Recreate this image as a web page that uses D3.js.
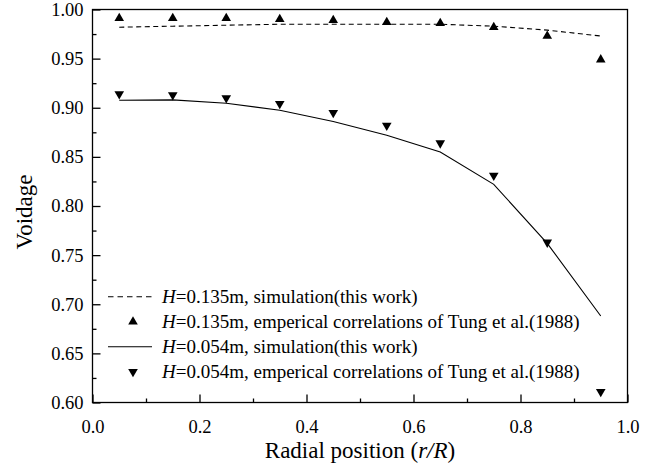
<!DOCTYPE html>
<html>
<head>
<meta charset="utf-8">
<script src="https://cdn.jsdelivr.net/npm/d3@7"></script>
<style>
  html, body { margin: 0; padding: 0; background: #fff; }
  svg { display: block; }
  text { font-family: "Liberation Serif", "Times New Roman", serif; fill: #000; }
</style>
</head>
<body>
<svg id="chart" width="664" height="468"></svg>
<script>
// ---- data ----
const radial = [0.05, 0.15, 0.25, 0.35, 0.45, 0.55, 0.65, 0.75, 0.85, 0.95];
const sim135 = [0.982, 0.983, 0.984, 0.985, 0.985, 0.985, 0.985, 0.983, 0.979, 0.973];
const emp135 = [0.991, 0.991, 0.991, 0.990, 0.989, 0.987, 0.986, 0.982, 0.973, 0.949];
const sim054 = [0.9076, 0.908, 0.9046, 0.8975, 0.886, 0.872, 0.855, 0.822, 0.762, 0.688];
const emp054 = [0.914, 0.913, 0.910, 0.904, 0.895, 0.882, 0.864, 0.831, 0.763, 0.611];
const xTicks = [0.0, 0.2, 0.4, 0.6, 0.8, 1.0];
const xMinor = [0.1, 0.3, 0.5, 0.7, 0.9];
const yTicks = [0.60, 0.65, 0.70, 0.75, 0.80, 0.85, 0.90, 0.95, 1.00];
const yMinor = [0.625, 0.675, 0.725, 0.775, 0.825, 0.875, 0.925, 0.975];
const legendLabels = [
  "=0.135m, simulation(this work)",
  "=0.135m, emperical correlations of Tung et al.(1988)",
  "=0.054m, simulation(this work)",
  "=0.054m, emperical correlations of Tung et al.(1988)"
];

// ---- layout ----
const L = 92.5, R = 627.5, T = 9.5, B = 402.5;
const FONT = "'Liberation Serif', 'Times New Roman', serif";
const svg = d3.select("#chart");
const x = d3.scaleLinear().domain([0, 1]).range([L, R]);
const y = d3.scaleLinear().domain([0.6, 1.0]).range([B, T]);

// frame
svg.append("rect").attr("x", L).attr("y", T).attr("width", R - L).attr("height", B - T)
  .attr("fill", "none").attr("stroke", "#000").attr("stroke-width", 1.3);

// axes
const yAxis = svg.append("g").attr("transform", `translate(${L},0)`)
  .call(d3.axisLeft(y).tickValues(yTicks).tickFormat(d3.format(".2f")).tickSize(-8).tickPadding(9));
const yAxisMinor = svg.append("g").attr("transform", `translate(${L},0)`)
  .call(d3.axisLeft(y).tickValues(yMinor).tickFormat("").tickSize(-4));
const xAxis = svg.append("g").attr("transform", `translate(0,${B})`)
  .call(d3.axisBottom(x).tickValues(xTicks).tickFormat(d3.format(".1f")).tickSize(-8).tickPadding(17));
const xAxisMinor = svg.append("g").attr("transform", `translate(0,${B})`)
  .call(d3.axisBottom(x).tickValues(xMinor).tickFormat("").tickSize(-4));
[yAxis, yAxisMinor, xAxis, xAxisMinor].forEach(g => {
  g.attr("font-family", FONT);
  g.select(".domain").remove();
  g.selectAll("line").attr("stroke", "#000").attr("stroke-width", 1.3);
  g.selectAll("text").style("font-family", FONT).style("font-size", "18.5px").attr("fill", "#000");
});

// lines
const line = d3.line().x(d => x(d[0])).y(d => y(d[1]));
svg.append("path").datum(radial.map((r, i) => [r, sim135[i]]))
  .attr("d", line).attr("fill", "none").attr("stroke", "#000").attr("stroke-width", 1.1)
  .attr("stroke-dasharray", "5,3.5");
svg.append("path").datum(radial.map((r, i) => [r, sim054[i]]))
  .attr("d", line).attr("fill", "none").attr("stroke", "#000").attr("stroke-width", 1.1);

// markers
const tri = d3.symbol().type(d3.symbolTriangle).size(40);
svg.append("g").selectAll("path").data(radial.map((r, i) => [r, emp135[i]])).join("path")
  .attr("d", tri).attr("transform", d => `translate(${x(d[0])},${y(d[1])})`).attr("fill", "#000");
svg.append("g").selectAll("path").data(radial.map((r, i) => [r, emp054[i]])).join("path")
  .attr("d", tri).attr("transform", d => `translate(${x(d[0])},${y(d[1])}) rotate(180)`).attr("fill", "#000");

// legend
const lg = svg.append("g");
const rowsY = [296.7, 321.7, 346.7, 371.7];
legendLabels.forEach((lab, i) => {
  const cy = rowsY[i];
  if (i === 0 || i === 2) {
    lg.append("line").attr("x1", 108).attr("x2", 152).attr("y1", cy).attr("y2", cy)
      .attr("stroke", "#000").attr("stroke-width", 1.1)
      .attr("stroke-dasharray", i === 0 ? "5.5,4" : null);
  } else {
    lg.append("path").attr("d", tri)
      .attr("transform", `translate(133,${cy})` + (i === 3 ? " rotate(180)" : ""))
      .attr("fill", "#000");
  }
  const t = lg.append("text").attr("x", 162).attr("y", cy + 6.5).style("font-size", "19px");
  t.append("tspan").style("font-style", "italic").text("H");
  t.append("tspan").text(lab);
});

// axis titles
const xt = svg.append("text").attr("x", (L + R) / 2).attr("y", 458)
  .attr("text-anchor", "middle").style("font-size", "23px");
xt.append("tspan").text("Radial position (");
xt.append("tspan").style("font-style", "italic").text("r/R");
xt.append("tspan").text(")");

svg.append("text").attr("transform", `translate(32,${(T + B) / 2 + 6}) rotate(-90)`)
  .attr("text-anchor", "middle").style("font-size", "23px").text("Voidage");
</script>
</body>
</html>
